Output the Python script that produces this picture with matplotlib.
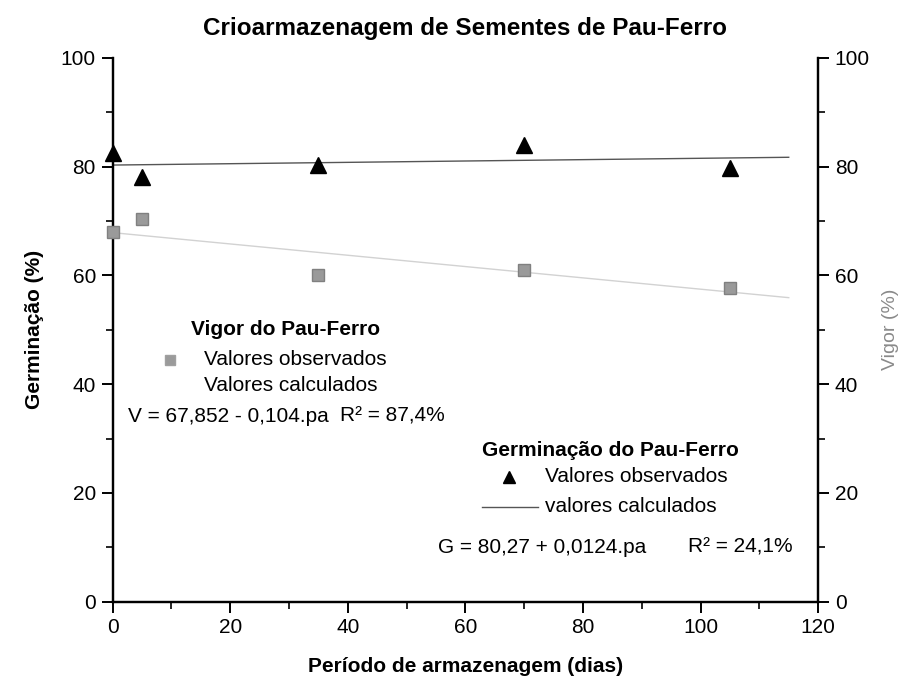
import matplotlib
matplotlib.use("Agg")
import matplotlib.pyplot as plt
from matplotlib.ticker import MultipleLocator

plt.rcParams['font.family'] = ['Liberation Sans', 'DejaVu Sans']

# Data
dias = [0, 5, 35, 70, 105]
germinacao = [82.4, 78.1, 80.3, 84.0, 79.8]
vigor = [67.9, 70.3, 60.1, 61.0, 57.6]

# fitted lines (endpoints, from the equations shown)
fit_x = [0, 115]
germ_fit = [80.27, 81.7]
vigor_fit = [67.85, 55.9]

title = "Crioarmazenagem de Sementes de Pau-Ferro"
xlabel = "Período de armazenagem (dias)"
ylabel_left = "Germinação (%)"
ylabel_right = "Vigor (%)"

fig = plt.figure(figsize=(9.01, 6.87), dpi=100)
ax = fig.add_axes([0.125, 0.124, 0.783, 0.792])
ax2 = ax.twinx()

ax.set_xlim(0, 120)
ax.set_ylim(0, 100)
ax2.set_ylim(0, 100)

# germination fit + points
ax.plot(fit_x, germ_fit, color='#555555', lw=1.0, zorder=2)
ax.plot(dias, germinacao, linestyle='none', marker='^', color='black',
        markersize=11.5, zorder=3, clip_on=False)

# vigor fit + points
ax2.plot(fit_x, vigor_fit, color='#d2d2d2', lw=1.0, zorder=2)
ax2.plot(dias, vigor, linestyle='none', marker='s', color='#9a9a9a',
         markeredgecolor='#808080', markersize=8, zorder=3, clip_on=False)

for a in (ax, ax2):
    a.spines['top'].set_visible(False)
    for s in ('left', 'right', 'bottom'):
        a.spines[s].set_linewidth(1.6)

ax.xaxis.set_major_locator(MultipleLocator(20))
ax.xaxis.set_minor_locator(MultipleLocator(10))
ax.yaxis.set_major_locator(MultipleLocator(20))
ax.yaxis.set_minor_locator(MultipleLocator(10))
ax2.yaxis.set_major_locator(MultipleLocator(20))
ax2.yaxis.set_minor_locator(MultipleLocator(10))

for a in (ax, ax2):
    a.tick_params(which='major', direction='out', length=8, width=1.4, labelsize=15, pad=4)
    a.tick_params(which='minor', direction='out', length=5, width=1.2)

ax.set_title(title, fontsize=17.5, fontweight='bold', pad=16)
ax.set_xlabel(xlabel, fontsize=15, fontweight='bold', labelpad=14)
ax.set_ylabel(ylabel_left, fontsize=15, fontweight='bold', labelpad=12)
ax2.set_ylabel(ylabel_right, fontsize=14, color='#8a8a8a', labelpad=9)

# annotations (legend blocks)
fs = 15
ax.text(13.4, 50.1, "Vigor do Pau-Ferro", fontsize=fs, fontweight='bold', ha='left', va='center')
ax.plot([9.7], [44.5], linestyle='none', marker='s', color='#9a9a9a',
        markeredgecolor='#a0a0a0', markersize=7)
ax.text(15.6, 44.5, "Valores observados", fontsize=fs, ha='left', va='center')
ax.text(15.6, 39.7, "Valores calculados", fontsize=fs, ha='left', va='center')
ax.text(2.6, 34.1, "V = 67,852 - 0,104.pa", fontsize=fs, ha='left', va='center')
ax.text(38.6, 34.1, "R² = 87,4%", fontsize=fs, ha='left', va='center')

ax.text(62.8, 27.8, "Germinação do Pau-Ferro", fontsize=fs, fontweight='bold', ha='left', va='center')
ax.plot([67.5], [23.0], linestyle='none', marker='^', color='black', markersize=9)
ax.text(73.5, 23.0, "Valores observados", fontsize=fs, ha='left', va='center')
ax.plot([62.8, 72.3], [17.4, 17.4], color='#555555', lw=1.0)
ax.text(73.5, 17.6, "valores calculados", fontsize=fs, ha='left', va='center')
ax.text(55.3, 10.0, "G = 80,27 + 0,0124.pa", fontsize=fs, ha='left', va='center')
ax.text(97.8, 10.0, "R² = 24,1%", fontsize=fs, ha='left', va='center')

fig.savefig("out.png", dpi=100)
